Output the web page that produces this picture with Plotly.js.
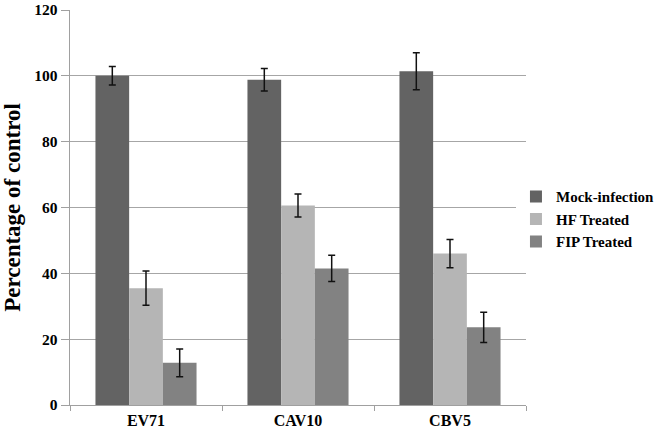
<!DOCTYPE html>
<html>
<head>
<meta charset="utf-8">
<script src="https://cdn.plot.ly/plotly-3.0.1.min.js"></script>
<style>
html,body{margin:0;padding:0;background:#fff;}
#chart{width:672px;height:435px;}
</style>
</head>
<body>
<div id="chart"></div>
<script>
var categories = ["EV71", "CAV10", "CBV5"];
var seriesNames = ["Mock-infection", "HF Treated", "FIP Treated"];
var mockValues = [100, 98.8, 101.4];
var mockErrors = [2.8, 3.4, 5.6];
var hfValues = [35.5, 60.6, 46.0];
var hfErrors = [5.2, 3.5, 4.3];
var fipValues = [12.8, 41.5, 23.6];
var fipErrors = [4.2, 4.0, 4.6];
var yTicks = [0, 20, 40, 60, 80, 100, 120];

var colors = ["#636363", "#b5b5b5", "#828282"];
var values = [mockValues, hfValues, fipValues];
var errors = [mockErrors, hfErrors, fipErrors];
var SERIF = "Liberation Serif, Times New Roman, serif";

var traces = seriesNames.map(function (name, i) {
  return {
    type: "bar",
    name: name,
    x: categories,
    y: values[i],
    marker: { color: colors[i], line: { width: 0 } },
    error_y: { type: "data", array: errors[i], visible: true, color: "#111", thickness: 1.5, width: 3.5 }
  };
});

var layout = {
  width: 672,
  height: 435,
  margin: { l: 70, r: 146, t: 10, b: 30 },
  paper_bgcolor: "#fff",
  plot_bgcolor: "#fff",
  barmode: "group",
  bargap: 0.335,
  bargroupgap: 0,
  font: { family: SERIF, color: "#000", weight: "bold" },
  xaxis: {
    type: "category",
    showline: true,
    linecolor: "#a0a0a0",
    linewidth: 1.3,
    ticks: "outside",
    tickson: "boundaries",
    ticklen: 5,
    tickcolor: "#a0a0a0",
    tickfont: { family: SERIF, size: 16, weight: "bold", color: "#000" },
    showgrid: false
  },
  yaxis: {
    range: [0, 120],
    tickvals: yTicks,
    showline: true,
    linecolor: "#a0a0a0",
    linewidth: 1.3,
    ticks: "outside",
    ticklen: 8,
    tickcolor: "#a0a0a0",
    showgrid: true,
    gridcolor: "#a6a6a6",
    gridwidth: 1.3,
    zeroline: false,
    tickfont: { family: SERIF, size: 15.5, weight: "bold", color: "#000" },
    title: { text: "Percentage of control", font: { family: SERIF, size: 23, weight: "bold", color: "#000" }, standoff: 8 }
  },
  legend: {
    x: 0.978,
    xanchor: "left",
    y: 0.47,
    yanchor: "middle",
    font: { family: SERIF, size: 15, weight: "bold", color: "#000" },
    itemwidth: 30,
    borderwidth: 0,
    tracegroupgap: 0
  },
  showlegend: true
};

Plotly.newPlot("chart", traces, layout, { displayModeBar: false, staticPlot: true });
</script>
</body>
</html>
